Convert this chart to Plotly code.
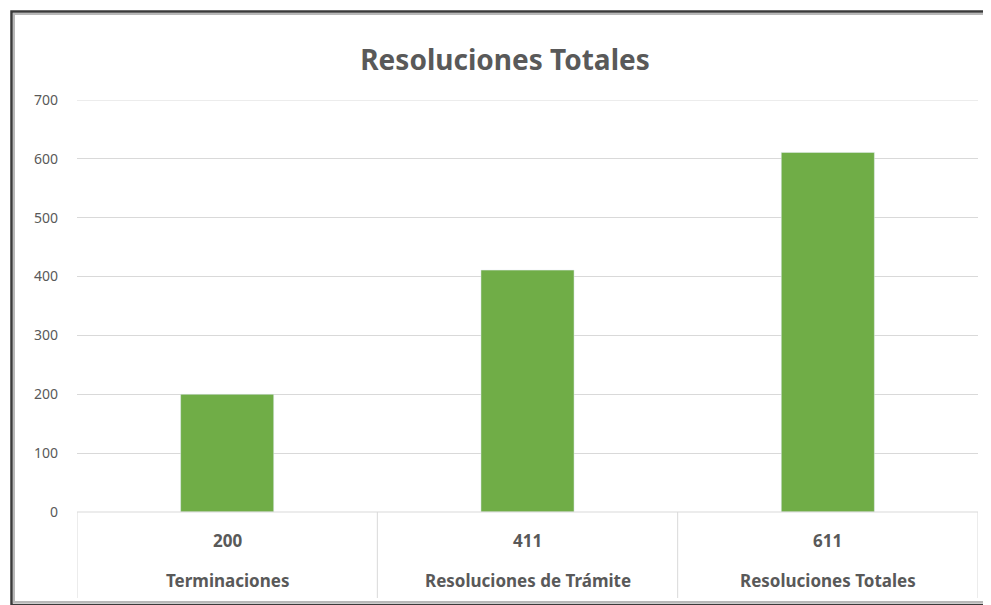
import plotly.graph_objects as go

categories = ["Terminaciones", "Resoluciones de Trámite", "Resoluciones Totales"]
values = [200, 411, 611]
y_ticks = [0, 100, 200, 300, 400, 500, 600, 700]
title_text = "Resoluciones Totales"

# page body has an 8px default margin; work in window pixels and shift
OFF = 8
W, H = 991 - OFF, 605 - OFF
L, R, T, B = 77 - OFF, 991 - 978, 100 - OFF, 605 - 512
PW, PH = W - L - R, H - T - B

def px_x(p):
    return (p - OFF - L) / PW

def px_y(p):
    return (512 - p) / PH

GRAY = "#595959"
FONT = "Noto Sans, Open Sans, Liberation Sans, sans-serif"

xs = list(range(len(categories)))
fig = go.Figure(go.Bar(x=xs, y=values, marker_color="#70AD47", width=0.31,
                       hoverinfo="y"))

shapes = []
for b in [-0.5 + i for i in range(len(categories) + 1)]:
    shapes.append(dict(type="line", xref="x", yref="paper", x0=b, x1=b,
                       y0=0, y1=px_y(598), line=dict(color="#D9D9D9", width=1)))
shapes.append(dict(type="line", xref="x", yref="paper", x0=-0.5, x1=len(categories) - 0.5,
                   y0=0, y1=0, line=dict(color="#D9D9D9", width=1)))
shapes.append(dict(type="line", xref="x", yref="y", x0=-0.5, x1=len(categories) - 0.5,
                   y0=700, y1=700, line=dict(color="#D9D9D9", width=1)))
# outer frame
shapes.append(dict(type="rect", xref="paper", yref="paper",
                   x0=px_x(11.5), x1=px_x(996), y0=px_y(11.5), y1=px_y(605),
                   line=dict(color="#3a3a3a", width=2.5), layer="above"))
shapes.append(dict(type="rect", xref="paper", yref="paper",
                   x0=px_x(14), x1=px_x(993), y0=px_y(14), y1=px_y(602),
                   line=dict(color="#b8b8b8", width=2), layer="above"))

annotations = []
for i, (c, v) in enumerate(zip(categories, values)):
    annotations.append(dict(x=i, y=px_y(540), xref="x", yref="paper", text=f"<b>{v}</b>",
                            yanchor="middle", showarrow=False,
                            font=dict(size=17, color=GRAY, family=FONT)))
    annotations.append(dict(x=i, y=px_y(580), xref="x", yref="paper", text=f"<b>{c}</b>",
                            yanchor="middle", showarrow=False,
                            font=dict(size=17, color=GRAY, family=FONT)))

fig.update_layout(
    width=W, height=H,
    margin=dict(l=L, r=R, t=T, b=B),
    paper_bgcolor="white", plot_bgcolor="white",
    title=dict(text=f"<b>{title_text}</b>", x=(505 - OFF) / W, xanchor="center",
               y=1 - (60 - OFF) / H, yanchor="middle",
               font=dict(size=28, color=GRAY, family=FONT)),
    xaxis=dict(range=[-0.5, len(categories) - 0.5], showticklabels=False, showgrid=False,
               zeroline=False, showline=False, fixedrange=True),
    yaxis=dict(range=[0, 700], tickvals=y_ticks, showgrid=True, gridcolor="#D9D9D9",
               zeroline=False, showline=False, ticklabelstandoff=18,
               tickfont=dict(size=14, color=GRAY, family=FONT)),
    shapes=shapes, annotations=annotations, showlegend=False,
)

fig.write_html("out.html")
